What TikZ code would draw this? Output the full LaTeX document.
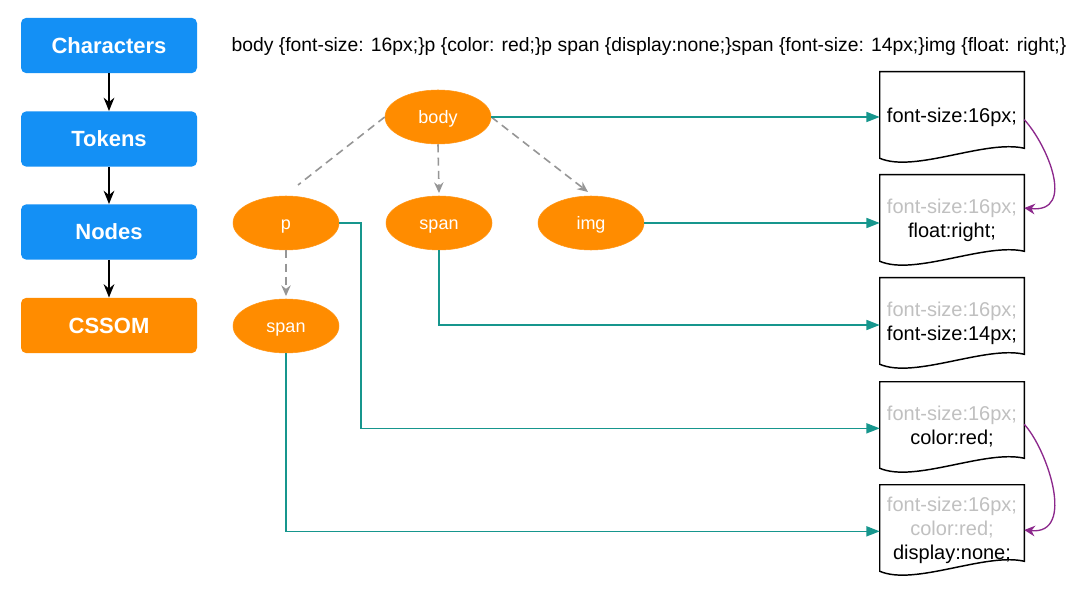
\documentclass[tikz,border=0pt]{standalone}
\usepackage{fontspec}
\setmainfont{Liberation Sans}
\usetikzlibrary{arrows.meta,shapes.geometric}
\definecolor{blueb}{RGB}{20,144,245}
\definecolor{orangeb}{RGB}{255,140,0}
\definecolor{tealc}{RGB}{22,150,141}
\definecolor{purplec}{RGB}{140,40,140}
\definecolor{grayd}{RGB}{150,150,150}
\definecolor{lightt}{RGB}{192,192,192}
\newcommand\docshape[1]{%
  \draw[line width=1.1pt] (#1.north west) -- (#1.north east) -- ([yshift=10.5pt]#1.south east)
    .. controls ([xshift=-29.25pt,yshift=17.25pt]#1.south east) and ([xshift=26.25pt,yshift=-8.25pt]#1.south west)
    .. ([yshift=3pt]#1.south west) -- cycle;}
\begin{document}
\begin{tikzpicture}[x=0.75pt,y=-0.75pt,
  stage/.style={rounded corners=4pt, minimum width=132pt, minimum height=41.5pt, text=white,
    font=\fontsize{16.5}{19}\selectfont\bfseries, inner sep=0pt},
  oval/.style={ellipse, fill=orangeb, draw=orangeb!90!white, minimum width=79.5pt, minimum height=40.5pt,
    inner sep=0pt, text=white, text height=10.5pt, text depth=1pt, font=\fontsize{13.5}{16}\selectfont},
  doc/.style={minimum width=108pt, minimum height=67.5pt, inner sep=0pt, align=center,
    font=\fontsize{15}{18}\selectfont},
  flow/.style={line width=1.5pt, -{Stealth[length=10pt,width=8pt]}},
  tree/.style={grayd, line width=1.2pt, dash pattern=on 6pt off 4pt},
  treearr/.style={tree, -{Stealth[length=8pt,width=7pt]}},
  link/.style={tealc, line width=1.2pt, -{Triangle[length=10pt,width=7.5pt]}},
  inherit/.style={purplec, line width=1pt, -{Stealth[length=8pt,width=8pt]}}
]
\useasboundingbox[fill=white] (0,0) rectangle (1080,591);

% left pipeline
\node[stage, fill=blueb] (chars) at (109,45.5) {Characters};
\node[stage, fill=blueb] (tokens) at (109,139) {Tokens};
\node[stage, fill=blueb] (nodes) at (109,232) {Nodes};
\node[stage, fill=orangeb] (cssom) at (109,325.5) {CSSOM};
\draw[flow] (chars) -- (tokens);
\draw[flow] (tokens) -- (nodes);
\draw[flow] (nodes) -- (cssom);

% css source
\node[font=\fontsize{14.5}{17}\selectfont, inner sep=0pt] (css) at (649,47)
  {body \{font-size: 16px;\}p \{color: red;\}p span \{display:none;\}span \{font-size: 14px;\}img \{float: right;\}};

% tree
\node[oval] (body) at (438,117) {body};
\node[oval] (p) at (286,223) {p};
\node[oval] (span1) at (439,223) {span};
\node[oval] (img) at (591,223) {img};
\node[oval] (span2) at (286,326) {span};

\coordinate (pend) at (298,185);
\draw[tree] (body.west) -- (pend);
\draw[treearr] (body.south) -- ([yshift=2pt]span1.north);
\draw[treearr] (body.east) -- (588,192);
\draw[treearr] (p.south) -- ([yshift=2pt]span2.north);

% style docs
\node[doc] (b1) at (952,117) {font-size:16px;};
\node[doc] (b2) at (952,220) {\textcolor{lightt}{font-size:16px;}\\float:right;};
\node[doc] (b3) at (952,323) {\textcolor{lightt}{font-size:16px;}\\font-size:14px;};
\node[doc] (b4) at (952,427) {\textcolor{lightt}{font-size:16px;}\\color:red;};
\node[doc] (b5) at (952,530) {\textcolor{lightt}{font-size:16px;}\\\textcolor{lightt}{color:red;}\\display:none;};
\docshape{b1}\docshape{b2}\docshape{b3}\docshape{b4}\docshape{b5}

% links
\draw[link] (body.east) -- (body.east -| b1.west);
\draw[link] (img.east) -- (img.east -| b2.west);
\draw[link] (span1.south) |- ([yshift=-1.5pt]b3.west);
\coordinate (pk) at (361,223);
\draw[link] (p.east) -- (pk) |- ([yshift=-1pt]b4.west);
\draw[link] (span2.south) |- ([yshift=-1pt]b5.west);

% inheritance
\draw[inherit] ([yshift=-2pt]b1.east) .. controls +(23,25) and +(52,5) .. ([yshift=9pt]b2.east);
\draw[inherit] ([yshift=2pt]b4.east) .. controls +(23,25) and +(52,5) .. ([yshift=0pt]b5.east);
\end{tikzpicture}
\end{document}
